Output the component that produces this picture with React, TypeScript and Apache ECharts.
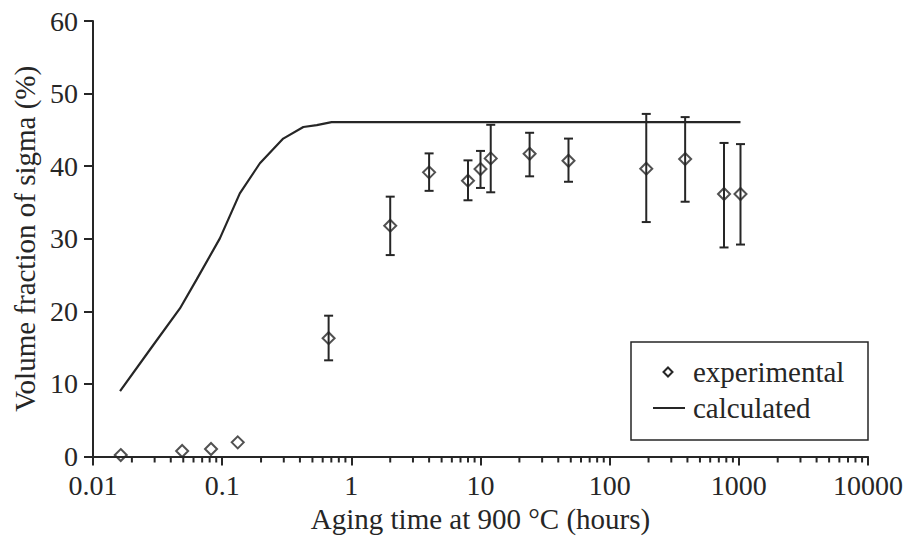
import React, { useEffect, useRef } from "react";
import * as echarts from "echarts";

// Experimental data (aging time in hours, volume fraction %)
const expX = [0.0164, 0.049, 0.082, 0.132, 0.667, 2, 4, 8, 10, 12, 24, 48, 192, 384, 768, 1030];
const expY = [0.2, 0.76, 1.03, 1.95, 16.3, 31.8, 39.15, 38.0, 39.6, 41.07, 41.7, 40.75, 39.65, 40.98, 36.16, 36.16];
const errLow = [null, null, null, null, 13.25, 27.75, 36.6, 35.3, 37.0, 36.4, 38.6, 37.85, 32.3, 35.1, 28.8, 29.2];
const errHigh = [null, null, null, null, 19.4, 35.8, 41.76, 40.8, 42.1, 45.7, 44.6, 43.8, 47.2, 46.76, 43.2, 43.04];

// Calculated curve
const calcX = [0.0162, 0.0293, 0.0471, 0.0635, 0.096, 0.137, 0.196, 0.297, 0.425, 0.54, 0.703, 1030];
const calcY = [9.0, 15.36, 20.4, 24.4, 30.05, 36.25, 40.4, 43.8, 45.4, 45.66, 46.07, 46.07];

// Axis ticks
const xTickLabels = ["0.01", "0.1", "1", "10", "100", "1000", "10000"];
const yTickLabels = ["0", "10", "20", "30", "40", "50", "60"];
const minorTickVals: number[] = [];
for (let e = -2; e < 4; e++) {
  for (let m = 2; m <= 9; m++) minorTickVals.push(Number((m * Math.pow(10, e)).toPrecision(3)));
}

const INK = "#262626";
const FONT = "'Liberation Serif', 'Times New Roman', serif";

export default function App() {
  const ref = useRef<HTMLDivElement>(null);
  useEffect(() => {
    if (!ref.current) return;
    const chart = echarts.init(ref.current, undefined, { renderer: "svg" });
    const expData = expX.map((x, i) => [x, expY[i]]);
    const errData = expX
      .map((x, i) => [x, errLow[i], errHigh[i]])
      .filter((d) => d[1] !== null);
    const calcData = calcX.map((x, i) => [x, calcY[i]]);
    const minorData = minorTickVals.map((v) => [v, 0]);

    chart.setOption({
      animation: false,
      backgroundColor: "#fff",
      textStyle: { fontFamily: FONT },
      grid: { left: 93, right: 39, top: 21, bottom: 89.5 },
      xAxis: {
        type: "log",
        logBase: 10,
        min: 0.01,
        max: 10000,
        name: "Aging time at 900 °C (hours)",
        nameLocation: "middle",
        nameGap: 48,
        nameTextStyle: { fontFamily: FONT, fontSize: 29, color: INK },
        axisLine: { lineStyle: { color: INK, width: 2 } },
        axisTick: { show: true, inside: false, length: 9, lineStyle: { color: INK, width: 2 } },
        axisLabel: {
          fontFamily: FONT,
          fontSize: 28,
          color: INK,
          margin: 14.5,
          formatter: (v: number) => xTickLabels[Math.round(Math.log10(v)) + 2] ?? "",
        },
        splitLine: { show: false },
      },
      yAxis: {
        type: "value",
        min: 0,
        max: 60,
        interval: 10,
        name: "Volume fraction of sigma (%)",
        nameLocation: "middle",
        nameGap: 49,
        nameTextStyle: { fontFamily: FONT, fontSize: 29, color: INK },
        axisLine: { show: true, lineStyle: { color: INK, width: 2 } },
        axisTick: { show: true, inside: false, length: 9, lineStyle: { color: INK, width: 2 } },
        axisLabel: {
          fontFamily: FONT,
          fontSize: 28,
          color: INK,
          margin: 15,
          formatter: (v: number) => yTickLabels[Math.round(v / 10)] ?? "",
        },
        splitLine: { show: false },
      },
      series: [
        {
          name: "calculated",
          type: "line",
          data: calcData,
          showSymbol: false,
          symbol: "none",
          lineStyle: { color: INK, width: 2.2 },
          z: 2,
        },
        {
          name: "errorbars",
          type: "custom",
          data: errData,
          z: 3,
          renderItem: (params: any, api: any) => {
            const x = api.value(0);
            const lo = api.coord([x, api.value(1)]);
            const hi = api.coord([x, api.value(2)]);
            const cw = 4.5;
            const style = { stroke: INK, lineWidth: 2 };
            return {
              type: "group",
              children: [
                { type: "line", shape: { x1: lo[0], y1: lo[1], x2: hi[0], y2: hi[1] }, style },
                { type: "line", shape: { x1: lo[0] - cw, y1: lo[1], x2: lo[0] + cw, y2: lo[1] }, style },
                { type: "line", shape: { x1: hi[0] - cw, y1: hi[1], x2: hi[0] + cw, y2: hi[1] }, style },
              ],
            };
          },
        },
        {
          name: "minorticks",
          type: "custom",
          data: minorData,
          clip: false,
          silent: true,
          z: 1,
          renderItem: (params: any, api: any) => {
            const p = api.coord([api.value(0), 0]);
            return {
              type: "line",
              shape: { x1: p[0], y1: p[1], x2: p[0], y2: p[1] + 6 },
              style: { stroke: INK, lineWidth: 2 },
            };
          },
        },
        {
          name: "experimental",
          type: "scatter",
          data: expData,
          symbol: "diamond",
          symbolSize: 12,
          itemStyle: { color: "rgba(255,255,255,0)", borderColor: INK, borderWidth: 2 },
          z: 4,
        },
      ],
      graphic: [
        {
          type: "rect",
          shape: { x: 631, y: 342, width: 237, height: 98 },
          style: { fill: "#fff", stroke: INK, lineWidth: 1.5 },
          z: 10,
        },
        {
          type: "polygon",
          shape: { points: [[668, 367.5], [672.5, 372], [668, 376.5], [663.5, 372]] },
          style: { fill: "none", stroke: INK, lineWidth: 2 },
          z: 11,
        },
        {
          type: "text",
          x: 693,
          y: 372,
          style: { text: "experimental", fontFamily: FONT, fontSize: 29, fill: INK, verticalAlign: "middle" },
          z: 11,
        },
        {
          type: "line",
          shape: { x1: 653, y1: 408, x2: 685, y2: 408 },
          style: { stroke: INK, lineWidth: 2 },
          z: 11,
        },
        {
          type: "text",
          x: 693,
          y: 408,
          style: { text: "calculated", fontFamily: FONT, fontSize: 29, fill: INK, verticalAlign: "middle" },
          z: 11,
        },
      ],
    });
    return () => chart.dispose();
  }, []);
  return <div ref={ref} style={{ width: 907, height: 546, position: "absolute", left: 0, top: 0 }} />;
}
